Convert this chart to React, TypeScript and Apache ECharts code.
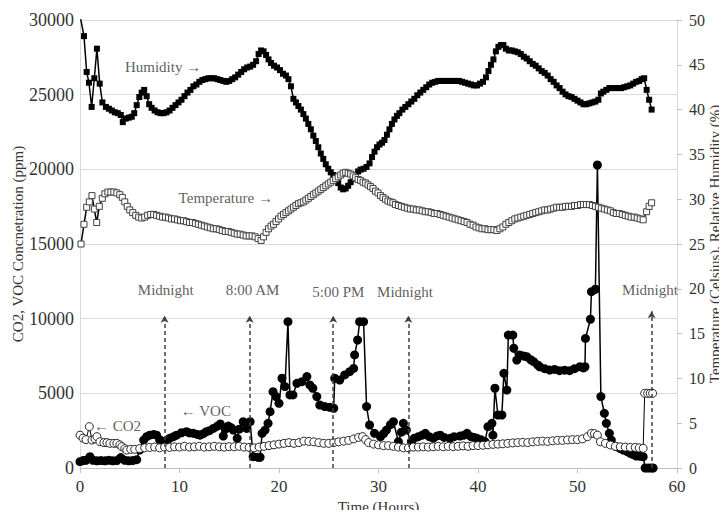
import React, { useEffect, useRef } from "react";
import * as echarts from "echarts";

// Relative humidity (%), right axis: [hour, value]
const humidity: [number, number][] = [
  [0, 50.5], [0.4, 48.2], [0.67, 44.2], [0.9, 43.0], [1.17, 40.3], [1.44, 43.5], [1.7, 46.8], [1.98, 42.9],
  [2.25, 40.8], [2.6, 40.3], [2.9, 40.1], [3.2, 39.9], [3.5, 39.7], [3.8, 39.6], [4.1, 39.4], [4.3, 38.6],
  [4.6, 39.0], [4.9, 39.1], [5.2, 39.2], [5.45, 39.6], [5.7, 40.5], [5.96, 41.4], [6.2, 41.9], [6.45, 42.2],
  [6.7, 41.5], [6.95, 40.6], [7.2, 40.2], [7.5, 39.9], [7.8, 39.7], [8.1, 39.6], [8.4, 39.6], [8.7, 39.7],
  [9.0, 39.9], [9.3, 40.2], [9.6, 40.5], [9.9, 40.8], [10.2, 41.1], [10.5, 41.5], [10.8, 41.9], [11.1, 42.2],
  [11.4, 42.6], [11.7, 42.8], [12.0, 43.1], [12.3, 43.3], [12.6, 43.4], [12.9, 43.5], [13.2, 43.5], [13.5, 43.5],
  [13.8, 43.4], [14.1, 43.3], [14.4, 43.2], [14.7, 43.1], [15.0, 43.2], [15.3, 43.4], [15.6, 43.6], [15.9, 43.9],
  [16.2, 44.2], [16.5, 44.5], [16.8, 44.7], [17.1, 44.8], [17.4, 45.0], [17.7, 45.4], [17.95, 46.2], [18.2, 46.6],
  [18.45, 46.5], [18.7, 46.1], [18.95, 45.6], [19.2, 45.2], [19.5, 44.9], [19.8, 44.7], [20.1, 44.4], [20.4, 44.0],
  [20.7, 43.8], [20.95, 43.4], [21.2, 42.6], [21.45, 41.2], [21.7, 40.8], [21.95, 40.4], [22.2, 40.0], [22.45, 39.5],
  [22.7, 39.0], [22.95, 38.4], [23.2, 37.8], [23.45, 37.1], [23.7, 36.5], [23.95, 35.8], [24.2, 35.1], [24.45, 34.5],
  [24.7, 33.9], [24.95, 33.4], [25.2, 33.0], [25.45, 32.7], [25.7, 32.4], [25.95, 31.8], [26.2, 31.3], [26.45, 31.1],
  [26.7, 31.2], [26.95, 31.5], [27.2, 31.9], [27.45, 32.3], [27.7, 32.7], [27.95, 33.1], [28.2, 33.3], [28.5, 33.4],
  [28.8, 33.6], [29.1, 34.0], [29.35, 34.7], [29.6, 35.3], [29.85, 35.8], [30.1, 36.1], [30.35, 36.3], [30.6, 36.6],
  [30.85, 37.2], [31.1, 37.8], [31.35, 38.4], [31.6, 38.9], [31.85, 39.3], [32.1, 39.6], [32.4, 40.0], [32.7, 40.3],
  [33.0, 40.6], [33.3, 40.9], [33.6, 41.2], [33.9, 41.6], [34.2, 41.9], [34.5, 42.2], [34.8, 42.5], [35.1, 42.8],
  [35.4, 43.0], [35.7, 43.1], [36.0, 43.2], [36.3, 43.2], [36.6, 43.2], [36.9, 43.2], [37.2, 43.2], [37.5, 43.2],
  [37.8, 43.2], [38.1, 43.2], [38.4, 43.1], [38.7, 43.0], [39.0, 42.9], [39.3, 42.8], [39.6, 42.7], [39.9, 42.7],
  [40.2, 42.9], [40.5, 43.1], [40.8, 43.6], [41.05, 44.3], [41.3, 45.0], [41.55, 45.6], [41.8, 46.5], [42.05, 47.0],
  [42.3, 47.2], [42.55, 47.2], [42.8, 46.8], [43.1, 46.6], [43.4, 46.6], [43.7, 46.5], [44.0, 46.4], [44.3, 46.2],
  [44.6, 45.9], [44.9, 45.7], [45.2, 45.4], [45.5, 45.1], [45.8, 44.9], [46.1, 44.6], [46.4, 44.3], [46.7, 44.1],
  [47.0, 43.8], [47.3, 43.4], [47.6, 43.1], [47.9, 42.7], [48.2, 42.4], [48.5, 42.0], [48.8, 41.7], [49.1, 41.5],
  [49.4, 41.4], [49.7, 41.2], [50.0, 41.0], [50.3, 40.8], [50.6, 40.6], [50.9, 40.6], [51.2, 40.7], [51.5, 40.8],
  [51.8, 40.9], [52.1, 41.1], [52.35, 41.8], [52.6, 42.0], [52.9, 42.2], [53.2, 42.4], [53.5, 42.4], [53.8, 42.4],
  [54.1, 42.4], [54.4, 42.4], [54.7, 42.5], [55.0, 42.6], [55.3, 42.7], [55.6, 42.9], [55.9, 43.1], [56.2, 43.2],
  [56.45, 43.4], [56.7, 43.5], [56.95, 42.2], [57.2, 41.1], [57.45, 40.0],
];

// Temperature (Celsius), right axis
const temperature: [number, number][] = [
  [0.1, 25.0], [0.4, 27.2], [0.67, 29.1], [0.94, 29.7], [1.2, 30.4], [1.44, 28.9], [1.68, 27.4], [1.94, 29.2],
  [2.24, 30.1], [2.5, 30.6], [2.8, 30.8], [3.1, 30.8], [3.4, 30.8], [3.7, 30.7], [4.0, 30.5], [4.25, 30.2],
  [4.5, 29.7], [4.75, 29.2], [5.0, 28.8], [5.3, 28.5], [5.6, 28.2], [5.9, 28.0], [6.2, 27.9], [6.5, 28.0],
  [6.8, 28.2], [7.1, 28.3], [7.4, 28.3], [7.7, 28.2], [8.0, 28.1], [8.3, 28.0], [8.6, 28.0], [8.9, 27.9],
  [9.2, 27.8], [9.5, 27.8], [9.8, 27.7], [10.1, 27.6], [10.4, 27.6], [10.7, 27.5], [11.0, 27.4], [11.3, 27.4],
  [11.6, 27.3], [11.9, 27.2], [12.2, 27.1], [12.5, 27.0], [12.8, 26.9], [13.1, 26.8], [13.4, 26.7], [13.7, 26.7],
  [14.0, 26.6], [14.3, 26.5], [14.6, 26.4], [14.9, 26.4], [15.2, 26.3], [15.5, 26.2], [15.8, 26.1], [16.1, 26.1],
  [16.4, 26.0], [16.7, 25.9], [17.0, 25.9], [17.3, 25.9], [17.6, 25.8], [17.9, 25.6], [18.2, 25.4], [18.45, 25.8],
  [18.7, 26.3], [18.95, 26.7], [19.2, 27.0], [19.45, 27.2], [19.7, 27.5], [19.95, 27.8], [20.2, 28.1], [20.45, 28.3],
  [20.7, 28.5], [20.95, 28.7], [21.2, 28.9], [21.45, 29.1], [21.7, 29.3], [21.95, 29.5], [22.2, 29.6], [22.45, 29.7],
  [22.7, 29.9], [22.95, 30.1], [23.2, 30.3], [23.45, 30.5], [23.7, 30.7], [23.95, 30.9], [24.2, 31.1], [24.45, 31.3],
  [24.7, 31.5], [24.95, 31.7], [25.2, 31.9], [25.45, 32.1], [25.7, 32.3], [25.95, 32.5], [26.2, 32.7], [26.45, 32.9],
  [26.7, 33.0], [26.95, 32.9], [27.2, 32.8], [27.45, 32.6], [27.7, 32.4], [27.95, 32.2], [28.2, 32.1], [28.45, 31.9],
  [28.7, 31.8], [28.95, 31.6], [29.2, 31.4], [29.45, 31.2], [29.7, 30.9], [29.95, 30.7], [30.2, 30.4], [30.45, 30.2],
  [30.7, 30.0], [30.95, 29.8], [31.2, 29.7], [31.45, 29.6], [31.7, 29.4], [32.0, 29.3], [32.3, 29.2], [32.6, 29.1],
  [32.9, 29.0], [33.2, 28.9], [33.5, 28.9], [33.8, 28.8], [34.1, 28.8], [34.4, 28.7], [34.7, 28.6], [35.0, 28.6],
  [35.3, 28.5], [35.6, 28.4], [35.9, 28.4], [36.2, 28.3], [36.5, 28.2], [36.8, 28.1], [37.1, 28.0], [37.4, 27.9],
  [37.7, 27.8], [38.0, 27.7], [38.3, 27.6], [38.6, 27.5], [38.9, 27.4], [39.2, 27.2], [39.5, 27.1], [39.8, 26.9],
  [40.1, 26.8], [40.4, 26.7], [40.7, 26.7], [41.0, 26.6], [41.3, 26.6], [41.6, 26.6], [41.9, 26.5], [42.2, 26.7],
  [42.5, 26.9], [42.8, 27.2], [43.1, 27.4], [43.4, 27.6], [43.7, 27.8], [44.0, 27.9], [44.3, 28.0], [44.6, 28.1],
  [44.9, 28.2], [45.2, 28.3], [45.5, 28.4], [45.8, 28.5], [46.1, 28.6], [46.4, 28.7], [46.7, 28.8], [47.0, 28.8],
  [47.3, 28.9], [47.6, 29.0], [47.9, 29.1], [48.2, 29.1], [48.5, 29.1], [48.8, 29.2], [49.1, 29.2], [49.4, 29.2],
  [49.7, 29.3], [50.0, 29.3], [50.3, 29.4], [50.6, 29.4], [50.9, 29.4], [51.2, 29.4], [51.5, 29.3], [51.8, 29.2],
  [52.1, 29.1], [52.4, 29.0], [52.7, 28.9], [53.0, 28.8], [53.3, 28.7], [53.6, 28.5], [53.9, 28.4], [54.2, 28.4],
  [54.5, 28.3], [54.8, 28.2], [55.1, 28.1], [55.4, 28.0], [55.7, 28.0], [56.0, 27.9], [56.3, 27.8], [56.6, 27.7],
  [56.95, 28.6], [57.2, 29.2], [57.45, 29.6],
];

// VOC concentration (ppm), left axis
const voc: [number, number][] = [
  [0, 420], [0.3, 500], [0.6, 520], [1.0, 760], [1.3, 520], [1.7, 480], [2.1, 500], [2.5, 480], [2.9, 520],
  [3.3, 480], [3.7, 500], [4.1, 700], [4.5, 520], [4.9, 480], [5.3, 500], [5.7, 560], [6.0, 1200], [6.4, 1870],
  [6.7, 2100], [7.0, 2200], [7.4, 2250], [7.7, 2200], [8.0, 1900], [8.4, 1760], [8.7, 1850], [9.0, 1990],
  [9.4, 2100], [9.7, 2200], [10.2, 2360], [10.7, 2430], [11.0, 2350], [11.4, 2320], [11.8, 2250], [12.06, 2200],
  [12.4, 2300], [12.7, 2430], [13.0, 2500], [13.4, 2650], [13.8, 2800], [14.1, 2950], [14.4, 2140], [14.6, 2600],
  [14.9, 2810], [15.2, 2700], [15.4, 2540], [15.8, 1990], [16.0, 2600], [16.4, 3100], [16.75, 2650], [17.1, 3100],
  [17.4, 760], [17.9, 720], [18.1, 720], [18.3, 2320], [18.6, 2540], [18.9, 2990], [19.1, 3770], [19.4, 5110],
  [19.7, 4780], [20.0, 4330], [20.3, 6010], [20.6, 5450], [20.9, 9800], [21.1, 4890], [21.4, 4890], [21.8, 5670],
  [22.3, 5780], [22.8, 6120], [23.1, 5560], [23.4, 5340], [23.8, 4780], [24.1, 4220], [24.6, 4110], [25.1, 4060],
  [25.5, 4000], [25.6, 6010], [26.1, 5890], [26.6, 6230], [27.1, 6450], [27.5, 6670], [27.6, 7570], [27.9, 8570],
  [28.1, 9800], [28.5, 9800], [28.8, 4110], [29.1, 2880], [29.6, 2320], [30.2, 2100], [30.5, 2300], [30.8, 2540],
  [31.2, 2900], [31.5, 3100], [32.0, 1760], [32.3, 2400], [32.5, 2990], [32.8, 2540], [33.3, 1760], [33.6, 2000],
  [34.0, 2100], [34.4, 2200], [34.7, 2320], [35.1, 2100], [35.5, 1990], [35.9, 2150], [36.2, 2200], [36.6, 2050],
  [37.2, 1990], [37.6, 2100], [38.2, 2140], [38.6, 2200], [38.9, 2320], [39.3, 2100], [39.6, 2050], [39.9, 1990],
  [40.3, 1900], [40.7, 1760], [41.0, 2770], [41.4, 2990], [41.5, 2200], [41.7, 5340], [42.0, 3550], [42.4, 3550],
  [42.6, 6340], [42.9, 5220], [43.05, 8900], [43.5, 8900], [43.6, 8020], [43.9, 7230], [44.2, 7570], [44.6, 7500],
  [44.9, 7450], [45.3, 7250], [45.6, 7120], [46.0, 6900], [46.2, 6780], [46.7, 6650], [47.2, 6560], [47.7, 6600],
  [48.2, 6520], [48.7, 6550], [49.2, 6520], [49.7, 6650], [50.25, 6780], [50.6, 6700], [50.75, 6780], [50.8, 8680],
  [51.3, 9960], [51.4, 11810], [51.8, 11970], [52.0, 20290], [52.35, 4780], [52.7, 3660], [52.9, 2990], [53.2, 2320],
  [53.4, 1870], [53.9, 1430], [54.3, 1300], [54.6, 1200], [55.0, 1100], [55.3, 980], [55.6, 900], [55.9, 800],
  [56.3, 780], [56.6, 760], [56.8, 0], [57.1, 0], [57.4, 0], [57.6, 0],
];

// CO2 concentration (ppm), left axis
const co2: [number, number][] = [
  [0, 2200], [0.3, 2000], [0.6, 1900], [0.94, 2770], [1.2, 1870], [1.5, 1950], [1.7, 2100], [2.0, 1760],
  [2.4, 1700], [2.7, 1700], [3.0, 1650], [3.4, 1650], [3.7, 1650], [4.0, 1550], [4.2, 1430], [4.5, 1300],
  [4.7, 1200], [5.1, 1250], [5.5, 1250], [6.0, 1300], [6.5, 1350], [7.0, 1380], [7.5, 1400], [8.0, 1350],
  [8.5, 1400], [9.0, 1380], [9.5, 1420], [10.0, 1400], [10.5, 1450], [11.0, 1400], [11.5, 1420], [12.0, 1450],
  [12.5, 1400], [13.0, 1420], [13.5, 1450], [14.0, 1420], [14.5, 1400], [15.0, 1430], [15.5, 1420], [16.0, 1450],
  [16.5, 1400], [17.0, 1380], [17.5, 1350], [18.0, 1400], [18.5, 1450], [19.0, 1500], [19.5, 1550], [20.0, 1600],
  [20.5, 1650], [21.0, 1700], [21.5, 1650], [22.0, 1700], [22.5, 1800], [23.0, 1780], [23.5, 1750], [24.0, 1700],
  [24.5, 1650], [25.0, 1650], [25.5, 1700], [26.0, 1750], [26.5, 1800], [27.0, 1850], [27.5, 1950], [28.0, 2050],
  [28.4, 2100], [28.7, 1900], [29.0, 1700], [29.5, 1600], [30.0, 1550], [30.5, 1500], [31.0, 1500], [31.5, 1450],
  [32.0, 1400], [32.5, 1350], [33.0, 1350], [33.5, 1400], [34.0, 1400], [34.5, 1420], [35.0, 1400], [35.5, 1420],
  [36.0, 1450], [36.5, 1420], [37.0, 1450], [37.5, 1430], [38.0, 1450], [38.5, 1480], [39.0, 1450], [39.5, 1500],
  [40.0, 1500], [40.5, 1520], [41.0, 1550], [41.5, 1580], [42.0, 1600], [42.5, 1620], [43.0, 1650], [43.5, 1680],
  [44.0, 1700], [44.5, 1720], [45.0, 1700], [45.5, 1750], [46.0, 1780], [46.5, 1800], [47.0, 1780], [47.5, 1820],
  [48.0, 1850], [48.5, 1850], [49.0, 1880], [49.5, 1900], [50.0, 1900], [50.5, 1950], [51.0, 2100], [51.4, 2320],
  [51.7, 2300], [52.0, 2200], [52.3, 1760], [52.8, 1650], [53.3, 1540], [53.8, 1450], [54.3, 1420], [54.8, 1400],
  [55.3, 1380], [55.8, 1380], [56.2, 1350], [56.6, 1320], [56.75, 5000], [57.05, 5000], [57.3, 5000], [57.55, 5000],
];

// Event markers (dashed arrows)
const eventHours = [8.5, 17.05, 25.45, 33.0, 57.45];
const eventTops = [10200, 10200, 10200, 10200, 10500];
const eventLabels = ["Midnight", "8:00 AM", "5:00 PM", "Midnight", "Midnight"];
const eventLabelPos: [number, number][] = [[8.62, 11950], [17.34, 11950], [25.96, 11780], [32.66, 11780], [57.29, 11950]];

// Series name notes
const noteTexts = ["Humidity →", "Temperature →", "← CO2", "← VOC"];
const notePos: [number, number][] = [[8.35, 26880], [14.65, 18080], [3.77, 2810], [12.65, 3840]];

const xTicks = { min: 0, max: 60, interval: 10 };
const leftTicks = { min: 0, max: 30000, interval: 5000 };
const rightTicks = { min: 0, max: 50, interval: 5 };

const FONT = "'Liberation Serif', 'Times New Roman', 'DejaVu Serif', serif";
const TXT = "#333333";

export default function App() {
  const ref = useRef<HTMLDivElement>(null);
  useEffect(() => {
    if (!ref.current) return;
    const chart = echarts.init(ref.current, undefined, { renderer: "svg" });
    const noteData = [
      ...noteTexts.map((t, i) => ({ name: t, value: notePos[i] })),
      ...eventLabels.map((t, i) => ({ name: t, value: eventLabelPos[i] })),
    ];
    const fmt = (v: number) => String(v);
    chart.setOption({
      animation: false,
      textStyle: { fontFamily: FONT, color: TXT },
      grid: { left: 80, right: 50, top: 20, bottom: 50, outerBoundsMode: "none", containLabel: false },
      xAxis: {
        type: "value",
        ...xTicks,
        name: "Time (Hours)",
        nameLocation: "middle",
        nameGap: 31,
        nameMoveOverlap: false,
        nameTextStyle: { fontFamily: FONT, fontSize: 15, color: TXT },
        axisLine: { show: true, lineStyle: { color: "#bfbfbf", width: 1 } },
        axisTick: { show: true, length: 5, lineStyle: { color: "#bfbfbf" } },
        axisLabel: { fontFamily: FONT, fontSize: 17, color: TXT, margin: 10, formatter: fmt },
        splitLine: { show: false },
      },
      yAxis: [
        {
          type: "value",
          ...leftTicks,
          position: "left",
          name: "CO2, VOC Concnetration (ppm)",
          nameLocation: "middle",
          nameRotate: 90,
          nameGap: 55,
          nameMoveOverlap: false,
          nameTextStyle: { fontFamily: FONT, fontSize: 15, color: TXT },
          axisLine: { show: true, lineStyle: { color: "#d9d9d9", width: 1 } },
          axisTick: { show: false },
          axisLabel: { fontFamily: FONT, fontSize: 18, color: TXT, margin: 6, formatter: fmt },
          splitLine: { show: true, lineStyle: { color: "#d9d9d9", width: 1 } },
        },
        {
          type: "value",
          ...rightTicks,
          position: "right",
          name: "Temperature (Celsius), Relative Humidity (%)",
          nameLocation: "middle",
          nameRotate: 90,
          nameGap: 30,
          nameMoveOverlap: false,
          nameTextStyle: { fontFamily: FONT, fontSize: 15, color: TXT },
          axisLine: { show: true, lineStyle: { color: "#d9d9d9", width: 1 } },
          axisTick: { show: true, length: 5, lineStyle: { color: "#bfbfbf" } },
          axisLabel: { fontFamily: FONT, fontSize: 16, color: TXT, margin: 12, formatter: fmt },
          splitLine: { show: false },
        },
      ],
      series: [
        {
          name: "Humidity",
          type: "line",
          yAxisIndex: 1,
          data: humidity,
          symbol: "rect",
          symbolSize: 6,
          showAllSymbol: true,
          lineStyle: { color: "#000", width: 1.5 },
          itemStyle: { color: "#000" },
          clip: true,
          z: 3,
        },
        {
          name: "Temperature",
          type: "line",
          yAxisIndex: 1,
          data: temperature,
          symbol: "rect",
          symbolSize: 6,
          showAllSymbol: true,
          lineStyle: { color: "#000", width: 1.5 },
          itemStyle: { color: "#fff", borderColor: "#404040", borderWidth: 1 },
          clip: true,
          z: 3,
        },
        {
          name: "VOC",
          type: "line",
          yAxisIndex: 0,
          data: voc,
          symbol: "circle",
          symbolSize: 9,
          showAllSymbol: true,
          lineStyle: { color: "#000", width: 1.5 },
          itemStyle: { color: "#000" },
          clip: true,
          z: 3,
        },
        {
          name: "CO2",
          type: "line",
          yAxisIndex: 0,
          data: co2,
          symbol: "circle",
          symbolSize: 8,
          showAllSymbol: true,
          lineStyle: { color: "#000", width: 1 },
          itemStyle: { color: "#fff", borderColor: "#262626", borderWidth: 1 },
          clip: true,
          z: 4,
        },
        {
          name: "notes",
          type: "scatter",
          yAxisIndex: 0,
          data: noteData,
          symbolSize: 0,
          silent: true,
          z: 5,
          label: {
            show: true,
            position: "inside",
            formatter: "{b}",
            fontFamily: FONT,
            fontSize: 15,
            color: TXT,
          },
          markLine: {
            silent: true,
            symbol: ["none", "arrow"],
            symbolSize: [6, 7],
            label: { show: false },
            lineStyle: { type: [4, 3], color: "#404040", width: 1.5 },
            data: eventHours.map((h, i) => [
              { coord: [h, 0] },
              { coord: [h, eventTops[i]] },
            ]),
          },
        },
      ],
    });
    return () => chart.dispose();
  }, []);
  return <div ref={ref} style={{ width: 727, height: 518, margin: -8 }} />;
}
